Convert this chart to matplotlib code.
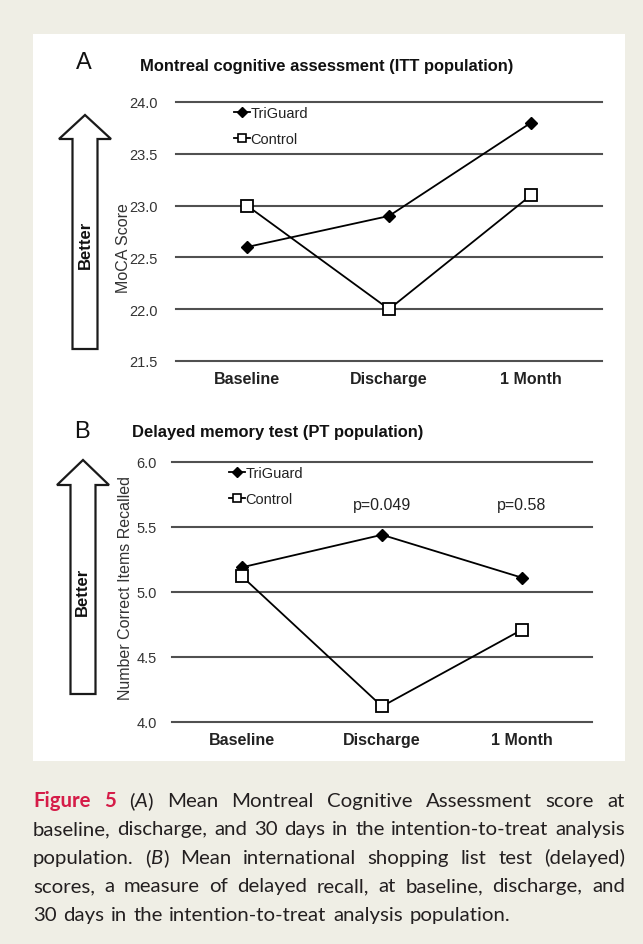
import matplotlib
matplotlib.use("Agg")
import matplotlib.pyplot as plt
from matplotlib.patches import Polygon, Rectangle
from matplotlib.lines import Line2D

# ---- data ----
categories = ["Baseline", "Discharge", "1 Month"]

moca_triguard = [22.6, 22.9, 23.8]
moca_control = [23.0, 22.0, 23.1]
moca_ticks = [21.5, 22.0, 22.5, 23.0, 23.5, 24.0]

memory_triguard = [5.19, 5.44, 5.11]
memory_control = [5.12, 4.12, 4.71]
memory_ticks = [4.0, 4.5, 5.0, 5.5, 6.0]
p_values = ["", "p=0.049", "p=0.58"]
p_level = 5.67

caption_lines = [
    [[("Figure", "red")], [("5", "red")], [("(", "n"), ("A", "i"), (")", "n")], [("Mean", "n")],
     [("Montreal", "n")], [("Cognitive", "n")], [("Assessment", "n")], [("score", "n")], [("at", "n")]],
    [[(w, "n")] for w in "baseline, discharge, and 30 days in the intention-to-treat analysis".split()],
    [[("population.", "n")], [("(", "n"), ("B", "i"), (")", "n")]] +
    [[(w, "n")] for w in "Mean international shopping list test (delayed)".split()],
    [[(w, "n")] for w in "scores, a measure of delayed recall, at baseline, discharge, and".split()],
    [[(w, "n")] for w in "30 days in the intention-to-treat analysis population.".split()],
]

W, H = 643, 945
BG = "#efeee5"
INK = "#231f20"
RED = "#d51c48"
GRID = "#505050"
plt.rcParams["font.family"] = ["Liberation Sans", "DejaVu Sans"]

fig = plt.figure(figsize=(W / 100, H / 100), dpi=100, facecolor=BG)


def fx(x):
    return x / W


def fy(y):
    return 1 - y / H


# white panel behind everything
fig.patches.append(Rectangle((fx(33), fy(762)), fx(625) - fx(33), fy(35) - fy(762),
                             transform=fig.transFigure, facecolor="white", edgecolor="none", zorder=-5))


def arrow(cx, tip, base, bottom, head_hw, shaft_hw):
    pts = [(cx, tip), (cx + head_hw, base), (cx + shaft_hw, base), (cx + shaft_hw, bottom),
           (cx - shaft_hw, bottom), (cx - shaft_hw, base), (cx - head_hw, base)]
    pts = [(fx(x), fy(y)) for x, y in pts]
    fig.patches.append(Polygon(pts, closed=True, transform=fig.transFigure,
                               facecolor="white", edgecolor="#1a1a1a", lw=1.6, zorder=1))


def panel(rect, tri, ctrl, ticks, ylabel, ylabel_xy, pad):
    ax = fig.add_axes(rect)
    ax.set_facecolor("none")
    ax.set_zorder(2)
    x = range(len(categories))
    ax.plot(x, tri, color="black", lw=1.3, marker="D", ms=6.5, mfc="black", mec="black",
            label="TriGuard", zorder=3)
    ax.plot(x, ctrl, color="black", lw=1.3, marker="s", ms=8, mfc="white", mec="black",
            mew=1.3, label="Control", zorder=3)
    ax.set_xlim(-0.5, len(categories) - 0.5)
    ax.set_ylim(ticks[0], ticks[-1])
    ax.set_yticks(ticks)
    ax.set_yticklabels([f"{t:.1f}" for t in ticks], fontsize=10.5, color="#333333")
    ax.set_xticks(list(x))
    ax.set_xticklabels(categories, fontsize=11.5, fontweight="bold", color="#222222")
    ax.tick_params(axis="y", length=0, pad=pad)
    ax.tick_params(axis="x", length=0, pad=7)
    ax.grid(axis="y", color=GRID, lw=1.5)
    ax.set_axisbelow(True)
    for gl in ax.get_ygridlines():
        gl.set_clip_on(False)
    for s in ax.spines.values():
        s.set_visible(False)
    fig.text(fx(ylabel_xy[0]), fy(ylabel_xy[1]), ylabel, rotation=90, ha="center", va="center",
             fontsize=11.5, color="#333333")
    handles = [Line2D([], [], color="black", lw=1.3, marker="D", ms=5.5, mfc="black"),
               Line2D([], [], color="black", lw=1.3, marker="s", ms=6, mfc="white", mew=1.2)]
    ax.legend(handles, ["TriGuard", "Control"], loc="upper left", frameon=False,
              bbox_to_anchor=(0.135, 0.985), fontsize=10.5, handlelength=1.1, handletextpad=0.05,
              labelspacing=0.85, borderpad=0, borderaxespad=0, labelcolor="#222222")
    return ax


# ---- panel A ----
fig.text(fx(84), fy(63), "A", fontsize=17, ha="center", va="center", color="#111111")
fig.text(fx(140), fy(67), "Montreal cognitive assessment (ITT population)", fontsize=11.9,
         fontweight="bold", va="center", color="#111111")
arrow(85, 116, 140, 350, 26, 12.5)
fig.text(fx(85), fy(245), "Better", rotation=90, fontsize=12, fontweight="bold",
         ha="center", va="center", color="#111111")
axA = panel([fx(176), fy(362), fx(602) - fx(176), fy(103) - fy(362)],
            moca_triguard, moca_control, moca_ticks, "MoCA Score", (123, 248), 13)

# ---- panel B ----
fig.text(fx(82), fy(432), "B", fontsize=17, ha="center", va="center", color="#111111")
fig.text(fx(132), fy(433), "Delayed memory test (PT population)", fontsize=11.9,
         fontweight="bold", va="center", color="#111111")
arrow(83, 461, 486, 695, 26, 12.5)
fig.text(fx(82), fy(592), "Better", rotation=90, fontsize=12, fontweight="bold",
         ha="center", va="center", color="#111111")
axB = panel([fx(172), fy(723), fx(592) - fx(172), fy(463) - fy(723)],
            memory_triguard, memory_control, memory_ticks, "Number Correct Items Recalled",
            (125, 588), 11)
for i, p in enumerate(p_values):
    if p:
        axB.text(i, p_level, p, ha="center", va="center", fontsize=11.5, color="#222222")

# ---- caption (justified) ----
renderer = fig.canvas.get_renderer()
styles = {"n": dict(color=INK), "i": dict(color=INK, style="italic"),
          "red": dict(color=RED, fontweight="bold")}
cap_font = ["Lato", "DejaVu Sans"]
left, right = 33, 625


def seg_width(txt, st, size):
    t = fig.text(0, 0, txt, fontsize=size, family=cap_font, **styles[st])
    w = t.get_window_extent(renderer).width
    t.remove()
    return w


# fit font size to the longest natural line
size = 15.0
nat = sum(seg_width(s, st, size) for word in caption_lines[1] for s, st in word)
space = seg_width("a b", "n", size) - 2 * seg_width("a", "n", size)
nat += space * (len(caption_lines[1]) - 1)
size = size * (right - left) / nat * 0.995

baselines = [807, 835.5, 864, 892.5, 921]
for k, line in enumerate(caption_lines):
    widths = [[seg_width(s, st, size) for s, st in word] for word in line]
    total = sum(sum(w) for w in widths)
    if k < len(caption_lines) - 1:
        gap = (right - left - total) / (len(line) - 1)
    else:
        gap = seg_width("a b", "n", size) - 2 * seg_width("a", "n", size)
    x = left
    for word, ws in zip(line, widths):
        for (s, st), w in zip(word, ws):
            fig.text(fx(x), fy(baselines[k]), s, fontsize=size, family=cap_font,
                     va="baseline", ha="left", **styles[st])
            x += w
        x += gap

fig.savefig("out.png", dpi=100, facecolor=BG)
